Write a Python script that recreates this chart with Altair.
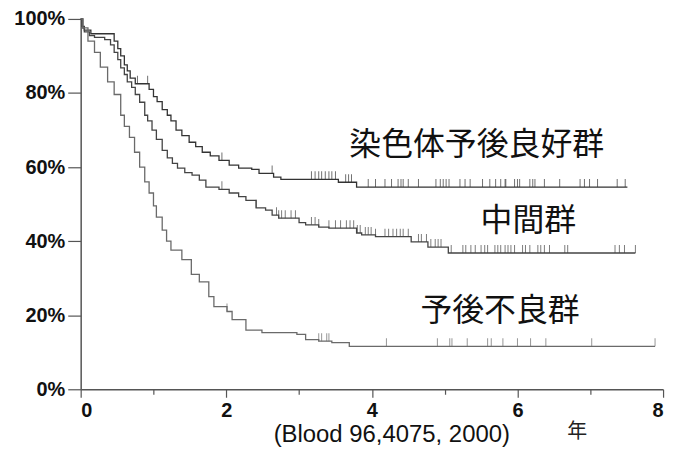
import bisect
import altair as alt
import pandas as pd

# ---- data ----
groups = ["染色体予後良好群", "中間群", "予後不良群"]

good_t = [0, 0.02, 0.05, 0.14, 0.46, 0.51, 0.55, 0.60, 0.64, 0.68, 0.75, 0.94, 1.00, 1.05, 1.12,
          1.19, 1.24, 1.31, 1.39, 1.49, 1.58, 1.67, 1.78, 1.90, 2.04, 2.17, 2.35, 2.45, 2.65, 2.75,
          3.54, 3.79, 7.51]
good_s = [100, 98, 97, 96, 94, 92, 90, 87.6, 86, 84, 82.5, 81, 79, 77.7, 75.5,
          74, 72.5, 70, 68.5, 66.7, 65.5, 64, 63, 61.8, 60.5, 59.7, 59.4, 58.3, 57.3, 56.7,
          55.9, 54.6, 54.6]

mid_t = [0, 0.03, 0.05, 0.12, 0.19, 0.33, 0.41, 0.46, 0.51, 0.55, 0.60, 0.64, 0.70, 0.75, 0.81,
         0.88, 0.92, 0.98, 1.04, 1.12, 1.19, 1.26, 1.33, 1.43, 1.53, 1.63, 1.72, 1.90, 2.04, 2.17,
         2.27, 2.41, 2.54, 2.63, 2.72, 3.00, 3.09, 3.27, 3.41, 3.79, 3.86, 4.05, 4.54, 4.77, 5.05, 7.62]
mid_s = [100, 97.5, 96.5, 95.5, 95, 94.4, 93, 91, 89, 86.8, 85, 83, 81.5, 79.6, 77.5,
         74, 72.5, 70, 67.5, 64.5, 62.5, 61, 59.7, 58.5, 57.8, 56.5, 54.6, 54, 53, 52,
         51, 49, 48.4, 47, 46.2, 45, 44.4, 43.8, 43.5, 42.2, 41.7, 41.2, 39.8, 38.4, 36.8, 36.8]

bad_t = [0, 0.03, 0.10, 0.19, 0.27, 0.37, 0.46, 0.55, 0.60, 0.67, 0.74, 0.81, 0.88, 0.94, 1.00,
         1.04, 1.12, 1.18, 1.24, 1.39, 1.52, 1.63, 1.76, 1.83, 2.01, 2.08, 2.27, 2.49, 2.97, 3.09,
         3.27, 3.45, 3.69, 7.89]
bad_s = [100, 97.6, 94, 91, 87, 83, 79.6, 74, 71, 68, 64, 60, 56, 53, 49.5,
         46.5, 43, 40, 37.6, 35, 31, 29, 25, 22.3, 21, 18.8, 16, 15.3, 14.8, 13.4,
         13.0, 12.6, 11.6, 11.6]

good_c = [0.78, 0.92, 1.94, 2.63, 3.17, 3.22, 3.27, 3.31, 3.36, 3.41, 3.45, 3.50, 3.64, 3.68, 3.72,
          3.95, 4.05, 4.18, 4.27, 4.36, 4.40, 4.43, 4.50, 4.64, 4.88, 4.94, 4.98, 5.02, 5.06, 5.21,
          5.28, 5.35, 5.52, 5.62, 5.70, 5.77, 5.83, 5.84, 5.96, 6.00, 6.03, 6.17, 6.21, 6.24, 6.37,
          6.58, 6.86, 6.92, 6.99, 7.10, 7.37, 7.48]
mid_c = [1.94, 2.41, 2.69, 2.72, 2.76, 2.81, 2.89, 2.95, 3.17, 3.22, 3.27, 3.41, 3.50, 3.57, 3.65,
         3.70, 3.75, 3.80, 3.84, 3.91, 3.95, 3.99, 4.05, 4.18, 4.23, 4.29, 4.34, 4.39, 4.43, 4.50,
         4.64, 4.68, 4.75, 4.81, 4.87, 4.91, 4.95, 5.09, 5.25, 5.29, 5.36, 5.42, 5.50, 5.55, 5.59,
         5.69, 5.73, 5.77, 5.83, 5.87, 5.91, 5.96, 6.07, 6.11, 6.17, 6.28, 6.32, 6.37, 6.44, 6.65,
         6.69, 7.34, 7.40, 7.47, 7.62]
bad_c = [2.01, 3.27, 3.31, 3.38, 3.41, 4.20, 4.90, 5.07, 5.10, 5.31, 5.59, 5.64, 5.80, 6.00, 6.18,
         6.39, 7.02, 7.89]

label_t = [5.44, 6.15, 5.76]
label_s = [65.9, 45.4, 21.2]

year_label = "年"
source_label = "(Blood 96,4075, 2000)"

colors = ["#333333", "#444444", "#6a6a6a"]

# ---- build tables ----
curves = []
cens = []
for g, ts, ss, cs in [(groups[0], good_t, good_s, good_c),
                      (groups[1], mid_t, mid_s, mid_c),
                      (groups[2], bad_t, bad_s, bad_c)]:
    for t, s in zip(ts, ss):
        curves.append({"group": g, "t": t, "s": s})
    for c in cs:
        i = bisect.bisect_right(ts, c) - 1
        cens.append({"group": g, "t": c, "s": ss[i]})
curve_df = pd.DataFrame(curves)
cens_df = pd.DataFrame(cens)
lab_df = pd.DataFrame({"label": groups, "t": label_t, "s": label_s})
year_df = pd.DataFrame({"label": [year_label], "t": [6.82], "s": [-11.6]})

xscale = alt.Scale(domain=[0, 8], nice=False, zero=False)
yscale = alt.Scale(domain=[0, 100], nice=False)
cscale = alt.Scale(domain=groups, range=colors)

xaxis = alt.Axis(
    values=list(range(0, 9)),
    format="d",
    labelExpr="datum.value % 2 === 0 ? datum.label : ''",
    tickSize={"condition": {"test": "datum.value % 2 === 0", "value": 8}, "value": 5},
    labelFontSize=20, labelFontWeight="bold", labelPadding=3,
    labelFont="Liberation Sans", labelColor="#111111",
    domainColor="#555555", domainWidth=1.5, tickColor="#555555", tickWidth=1.2,
    grid=False, title=source_label, titleFontSize=24, titleFontWeight="normal",
    titleFont="Liberation Sans", titleColor="#111111",
    titleX=312, titleY=45, titleBaseline="middle", titleAlign="center",
)
yaxis = alt.Axis(
    values=list(range(0, 101, 10)),
    labelExpr="datum.value % 20 === 0 ? datum.value + '%' : ''",
    tickSize={"condition": {"test": "datum.value % 20 === 0", "value": 13}, "value": 6},
    labelFontSize=20, labelFontWeight="bold", labelPadding=3,
    labelFont="Liberation Sans", labelColor="#111111",
    domainColor="#555555", domainWidth=1.5, tickColor="#555555", tickWidth=1.2,
    grid=False, title=None,
)

lines = alt.Chart(curve_df).mark_line(interpolate="step-after", strokeWidth=1.3).encode(
    x=alt.X("t:Q", scale=xscale, axis=xaxis),
    y=alt.Y("s:Q", scale=yscale, axis=yaxis),
    color=alt.Color("group:N", scale=cscale, legend=None),
    detail="group:N",
)

ticks = alt.Chart(cens_df).mark_tick(orient="vertical", size=8, thickness=1, yOffset=-4).encode(
    x=alt.X("t:Q", scale=xscale),
    y=alt.Y("s:Q", scale=yscale),
    color=alt.Color("group:N", scale=cscale, legend=None),
)

labels = alt.Chart(lab_df).mark_text(
    fontSize=32, font="Noto Sans CJK JP", color="#111111", align="center", baseline="middle"
).encode(
    x=alt.X("t:Q", scale=xscale),
    y=alt.Y("s:Q", scale=yscale),
    text="label:N",
)

year = alt.Chart(year_df).mark_text(
    fontSize=20, font="Noto Sans CJK JP", color="#222222", align="center", baseline="middle"
).encode(
    x=alt.X("t:Q", scale=xscale),
    y=alt.Y("s:Q", scale=yscale),
    text="label:N",
)

chart = alt.layer(lines, ticks, labels, year).properties(
    width=585, height=372,
    autosize=alt.AutoSizeParams(type="none"),
    padding={"left": 73, "top": 10, "right": 14, "bottom": 60},
    background="white",
).configure_view(stroke=None)

chart.save("out.html", embed_options={"renderer": "svg", "actions": False})
